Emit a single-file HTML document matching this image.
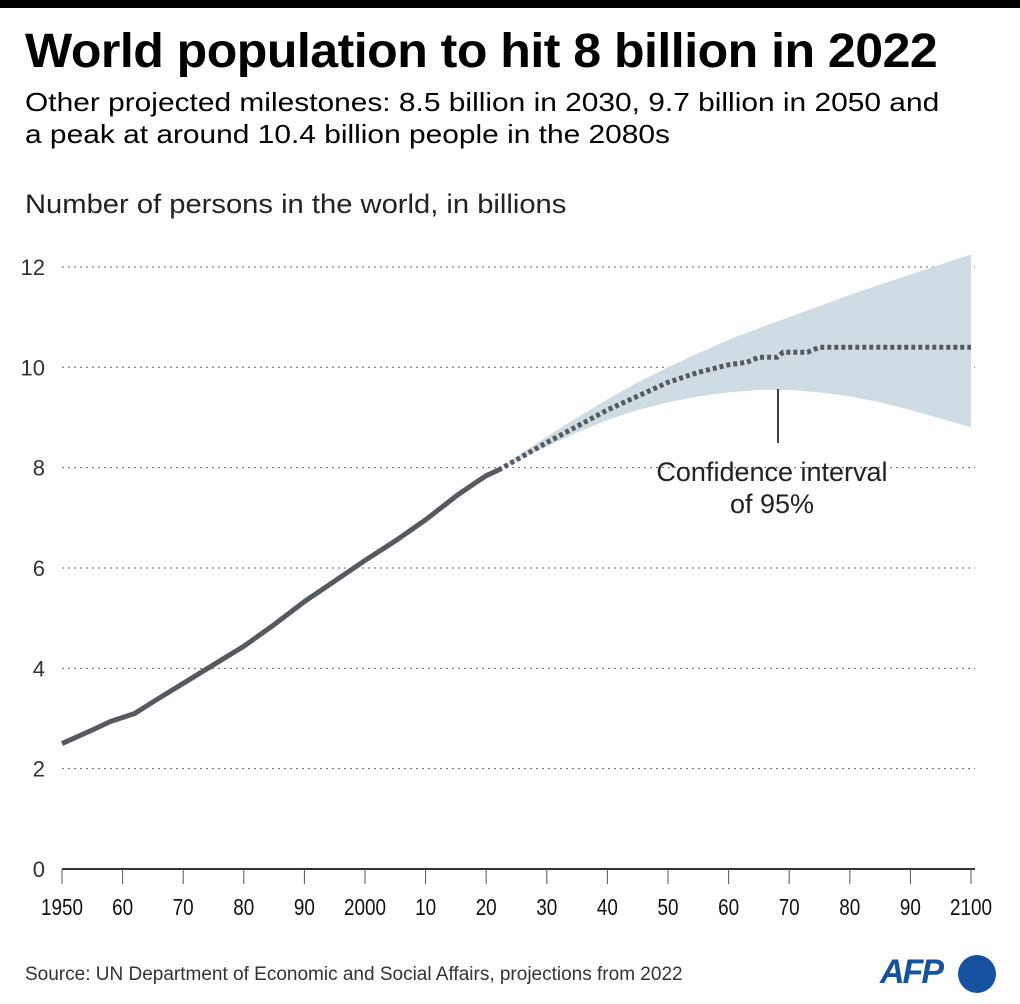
<!DOCTYPE html>
<html><head><meta charset="utf-8"><style>
body{margin:0;background:#fff;font-family:"Liberation Sans",sans-serif;}
#wrap{position:relative;width:1020px;height:1004px;overflow:hidden;}
.t{position:absolute;white-space:nowrap;color:#000;transform-origin:left top;}
</style></head><body>
<div id="wrap">
<div style="position:absolute;left:0;top:0;width:1020px;height:8px;background:#000"></div>
<div class="t" style="left:25px;top:24px;font-size:48px;font-weight:bold;letter-spacing:-0.5px;transform:scaleX(1.043)">World population to hit 8 billion in 2022</div>
<div class="t" style="left:25px;top:86px;font-size:26px;line-height:32px;transform:scaleX(1.15)">Other projected milestones: 8.5 billion in 2030, 9.7 billion in 2050 and<br>a peak at around 10.4 billion people in the 2080s</div>
<div class="t" style="left:25px;top:189px;font-size:27px;color:#222;transform:scaleX(1.08)">Number of persons in the world, in billions</div>
<svg id="svg" width="1020" height="1004" style="position:absolute;left:0;top:0"></svg>
<div class="t" style="left:25px;top:964px;font-size:19px;color:#333">Source: UN Department of Economic and Social Affairs, projections from 2022</div>
<div class="t" style="left:880px;top:953px;font-size:34px;font-weight:bold;font-style:italic;color:#1652a0;letter-spacing:-2px">AFP</div>
<div style="position:absolute;left:958px;top:955px;width:38px;height:38px;border-radius:50%;background:#1652a0"></div>
</div>
<script>
const histYears=[1950,1955,1958,1960,1962,1965,1970,1975,1980,1985,1990,1995,2000,2005,2010,2015,2018,2020,2022];
const histVals=[2.5,2.77,2.94,3.02,3.1,3.33,3.7,4.07,4.44,4.87,5.33,5.74,6.15,6.54,6.96,7.43,7.68,7.84,7.95];
const projYears=[2022,2030,2040,2050,2055,2060,2063,2065,2068,2069,2073,2075,2100];
const projVals=[7.95,8.5,9.15,9.7,9.9,10.05,10.1,10.2,10.2,10.3,10.3,10.4,10.4];
const bandYears=[2022,2026,2030,2035,2040,2045,2050,2055,2060,2065,2070,2075,2080,2085,2090,2095,2100];
const bandUpper=[7.95,8.3,8.62,9.0,9.36,9.7,10.0,10.28,10.55,10.78,11.0,11.22,11.44,11.65,11.85,12.05,12.25];
const bandLower=[7.95,8.2,8.42,8.7,8.95,9.15,9.3,9.42,9.5,9.55,9.55,9.5,9.42,9.3,9.15,8.98,8.8];
const yTicks=[0,2,4,6,8,10,12];
const xTicks=[1950,1960,1970,1980,1990,2000,2010,2020,2030,2040,2050,2060,2070,2080,2090,2100];
const xTickLabels=["1950","60","70","80","90","2000","10","20","30","40","50","60","70","80","90","2100"];
const X=y=>62+(y-1950)*(909/150);
const Y=v=>869-v*50.17;
const svg=document.getElementById('svg');const NS='http://www.w3.org/2000/svg';
function mk(t,a){const e=document.createElementNS(NS,t);for(const k in a)e.setAttribute(k,a[k]);svg.appendChild(e);return e;}
yTicks.forEach((v,i)=>{
 if(v>0){const g=mk('line',{x1:62,x2:975,y1:Y(v),y2:Y(v),stroke:'#666','stroke-width':1,'stroke-dasharray':'2,4'});
 
 }
 const t=mk('text',{x:45,y:Y(v)+8,'text-anchor':'end','font-size':22,fill:'#333','font-family':'Liberation Sans, sans-serif'});t.textContent=v;
 
 
});
let d='M'+bandYears.map((y,i)=>X(y)+','+Y(bandUpper[i])).join('L');
for(let i=bandYears.length-1;i>=0;i--)d+='L'+X(bandYears[i])+','+Y(bandLower[i]);
const band=mk('path',{d:d+'Z',fill:'#d0dce4'});


const ax=mk('line',{x1:62,x2:975,y1:869,y2:869,stroke:'#333','stroke-width':2});


xTicks.forEach((y,i)=>{
 const tk=mk('line',{x1:X(y),x2:X(y),y1:869,y2:884,stroke:'#555','stroke-width':1});
 
 
 const t=mk('text',{x:X(y),y:915,'text-anchor':'middle','font-size':23,fill:'#111','font-family':'Liberation Sans, sans-serif','textLength':xTickLabels[i].length*10.5,'lengthAdjust':'spacingAndGlyphs'});t.textContent=xTickLabels[i];
 
 
});
const hl=mk('polyline',{points:histYears.map((y,i)=>X(y)+','+Y(histVals[i])).join(' '),fill:'none',stroke:'#555a5e','stroke-width':5,'stroke-linejoin':'round'});


const pl=mk('polyline',{points:projYears.map((y,i)=>X(y)+','+Y(projVals[i])).join(' '),fill:'none',stroke:'#555a5e','stroke-width':5,'stroke-dasharray':'4,3'});


const ld=mk('line',{x1:778,x2:778,y1:389,y2:443,stroke:'#000','stroke-width':1.5});


[['Confidence interval',481],['of 95%',513]].forEach(a=>{
 const t=mk('text',{x:772,y:a[1],'text-anchor':'middle','font-size':27,fill:'#222','font-family':'Liberation Sans, sans-serif'});t.textContent=a[0];
 
 
});
</script>
</body></html>
